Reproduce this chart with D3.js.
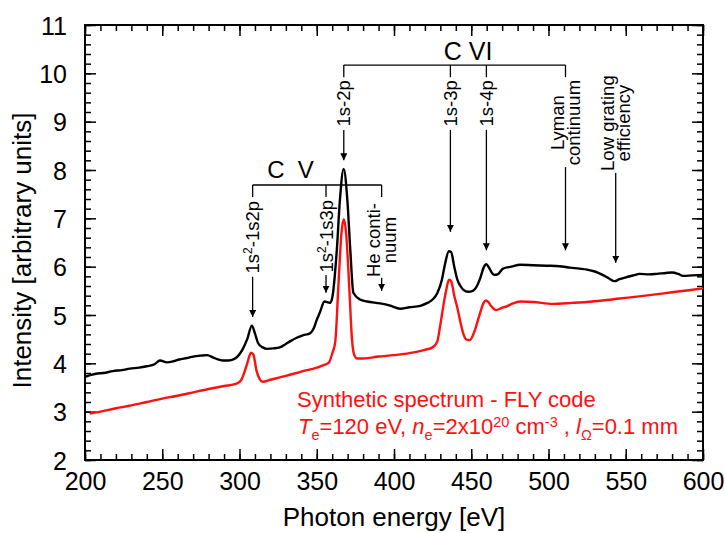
<!DOCTYPE html>
<html>
<head>
<meta charset="utf-8">
<script src="https://cdn.jsdelivr.net/npm/d3@7"></script>
<style>
    body { margin: 0; background: #fff; }
    svg text { font-family: "Liberation Sans", Arial, sans-serif; }
</style>
</head>
<body>
<svg id="chart" width="725" height="533"></svg>
<script>
// Measured spectrum (black) - photon energy [eV] vs intensity [arb. units]
const measEnergy = [200, 204, 208, 212, 218, 224, 229, 235, 240, 245, 248.5, 253, 257, 261, 266, 270, 275, 279, 283, 286,
    289, 293, 296, 299, 302, 305, 308, 310, 312, 315, 318, 322, 326, 330, 333, 337, 341, 345.6, 348, 350,
    352, 355, 358.6, 360, 363, 365, 367.4, 369.8, 371.7, 373.7, 378, 382.5, 391, 397, 404, 410, 417, 421, 425, 428,
    431, 433, 435.5, 437, 439, 441, 443, 445, 448, 451, 454, 456, 458, 459.7, 461.5, 463.4, 465, 467, 470.6, 476,
    481.6, 490, 499, 507, 514, 520, 525, 530, 535, 539, 542.7, 546, 549, 555, 559, 565, 570, 576, 580, 584, 587, 593, 600];
const measIntensity = [3.72, 3.76, 3.79, 3.8, 3.84, 3.86, 3.89, 3.91, 3.94, 3.98, 4.06, 4.02, 4.04, 4.08, 4.11, 4.14, 4.16, 4.17, 4.12, 4.08,
    4.06, 4.06, 4.08, 4.15, 4.29, 4.5, 4.78, 4.62, 4.42, 4.33, 4.3, 4.31, 4.33, 4.4, 4.46, 4.53, 4.58, 4.62, 4.72, 4.9,
    5.05, 5.28, 5.25, 5.35, 6.35, 7.38, 8.02, 7.38, 6.35, 5.46, 5.32, 5.28, 5.24, 5.2, 5.13, 5.16, 5.19, 5.24, 5.32, 5.45,
    5.73, 6.05, 6.32, 6.3, 6.0, 5.73, 5.6, 5.52, 5.48, 5.5, 5.62, 5.78, 5.98, 6.05, 5.98, 5.87, 5.83, 5.84, 5.96, 6.0,
    6.04, 6.03, 6.02, 6.01, 5.98, 5.96, 5.94, 5.9, 5.83, 5.76, 5.7, 5.74, 5.77, 5.82, 5.85, 5.84, 5.85, 5.87, 5.88, 5.85, 5.81, 5.82, 5.83];

// Synthetic spectrum (red) - FLY code
const flyEnergy = [203, 210, 220, 230, 240, 250, 260, 270, 280, 290, 298, 301, 303, 305, 307.5, 309, 311, 313, 315, 320,
    330, 340, 350, 354, 356, 358, 360, 362, 364, 366, 367.5, 369, 371, 372.8, 374, 376, 380, 390, 400, 410,
    420, 425, 428, 430, 432, 434, 435.6, 437, 439, 441, 443, 445, 447, 449, 451, 453, 455.7, 458, 459.5, 461,
    463, 466, 470, 473, 477, 481.6, 490, 503, 515, 525, 535, 546, 560, 580, 600];
const flyIntensity = [2.96, 3.0, 3.07, 3.13, 3.2, 3.27, 3.33, 3.4, 3.47, 3.53, 3.58, 3.65, 3.8, 4.0, 4.22, 4.18, 3.85, 3.68, 3.62, 3.66,
    3.74, 3.83, 3.91, 3.96, 3.98, 4.02, 4.2, 4.45, 5.6, 6.7, 6.98, 6.7, 5.6, 4.5, 4.2, 4.1, 4.1, 4.14, 4.17, 4.21,
    4.28, 4.33, 4.45, 4.8, 5.2, 5.55, 5.73, 5.7, 5.4, 5.15, 4.85, 4.6, 4.49, 4.48, 4.57, 4.75, 5.04, 5.25, 5.3, 5.27,
    5.18, 5.1, 5.15, 5.18, 5.24, 5.28, 5.27, 5.23, 5.25, 5.27, 5.3, 5.34, 5.39, 5.47, 5.55];

const xTicks = [200, 250, 300, 350, 400, 450, 500, 550, 600];
const yTicks = [2, 3, 4, 5, 6, 7, 8, 9, 10, 11];
const xMinorTicks = d3.range(200, 601, 10);
const yMinorTicks = d3.range(2, 11.01, 0.2);

// C V (He-like) lines and C VI (H-like) lines: energy, label lines
const cvLines = [
    { e: 308.5, label: [['1s', '2', '-1s2p']] },
    { e: 356, label: [['1s', '2', '-1s3p']] },
    { e: 392, label: [['He conti-'], ['nuum']] }
];
const cviLines = [
    { e: 367.5, label: [['1s-2p']] },
    { e: 436.5, label: [['1s-3p']] },
    { e: 459.8, label: [['1s-4p']] },
    { e: 511, label: [['Lyman'], ['continuum']] }
];

const svg = d3.select('#chart');
const mLeft = 85, mRight = 703, mTop = 25, mBottom = 460;

const x = d3.scaleLinear().domain([200, 600]).range([mLeft, mRight]);
const y = d3.scaleLinear().domain([2, 11]).range([mBottom, mTop]);

const fontAxis = 25;
const fontTitle = 26;

// arrow marker
svg.append('defs').append('marker')
    .attr('id', 'arrow')
    .attr('viewBox', '0 0 10 10')
    .attr('refX', 10).attr('refY', 5)
    .attr('markerWidth', 7).attr('markerHeight', 7)
    .attr('markerUnits', 'userSpaceOnUse')
    .attr('orient', 'auto')
    .append('path')
    .attr('d', 'M0,0 L10,5 L0,10 z')
    .attr('fill', '#000');

// ---- axes (ticks inward, mirrored on top/right) ----
function drawAxis(gen, transform, values, size, labels) {
    const g = svg.append('g')
        .attr('transform', transform)
        .call(gen.tickValues(values).tickSizeInner(size).tickSizeOuter(0)
            .tickPadding(labels ? labels : 0)
            .tickFormat(labels ? d3.format('d') : ''));
    g.select('.domain').remove();
    g.selectAll('line').attr('stroke', '#000').attr('stroke-width', 1.5);
    g.selectAll('text')
        .attr('font-size', fontAxis)
        .attr('fill', '#000')
        .style('font-family', '"Liberation Sans", Arial, sans-serif');
    return g;
}

drawAxis(d3.axisBottom(x), `translate(0,${mBottom})`, xMinorTicks, -6);
drawAxis(d3.axisBottom(x), `translate(0,${mBottom})`, xTicks, -11, 12);
drawAxis(d3.axisTop(x), `translate(0,${mTop})`, xMinorTicks, -6);
drawAxis(d3.axisTop(x), `translate(0,${mTop})`, xTicks, -11);
drawAxis(d3.axisLeft(y), `translate(${mLeft},0)`, yMinorTicks, -6);
drawAxis(d3.axisLeft(y), `translate(${mLeft},0)`, yTicks, -11, 18)
    .selectAll('text').attr('dy', '0.36em');
drawAxis(d3.axisRight(y), `translate(${mRight},0)`, yMinorTicks, -6);
drawAxis(d3.axisRight(y), `translate(${mRight},0)`, yTicks, -11);

svg.append('rect')
    .attr('x', mLeft).attr('y', mTop)
    .attr('width', mRight - mLeft).attr('height', mBottom - mTop)
    .attr('fill', 'none')
    .attr('stroke', '#000')
    .attr('stroke-width', 2);

// axis titles
svg.append('text')
    .attr('x', (mLeft + mRight) / 2)
    .attr('y', 526)
    .attr('text-anchor', 'middle')
    .attr('font-size', fontTitle)
    .attr('fill', '#000')
    .text('Photon energy [eV]');

svg.append('text')
    .attr('transform', `translate(31,${(mTop + mBottom) / 2 + 8}) rotate(-90)`)
    .attr('text-anchor', 'middle')
    .attr('font-size', fontTitle)
    .attr('fill', '#000')
    .text('Intensity [arbitrary units]');

// ---- spectra ----
const line = d3.line()
    .x(d => x(d[0]))
    .y(d => y(d[1]))
    .curve(d3.curveMonotoneX);

svg.append('path')
    .datum(flyEnergy.map((e, i) => [e, flyIntensity[i]]))
    .attr('d', line)
    .attr('fill', 'none')
    .attr('stroke', '#ff1010')
    .attr('stroke-width', 2.4);

svg.append('path')
    .datum(measEnergy.map((e, i) => [e, measIntensity[i]]))
    .attr('d', line)
    .attr('fill', 'none')
    .attr('stroke', '#000')
    .attr('stroke-width', 2.4);

// ---- annotations ----
const annFont = 18.5;

// rotated label: lines is an array of lines, each line an array of parts
// (odd-index parts are superscripts)
function vLabel(px, pyCenter, lines) {
    const gap = 16;
    lines.forEach((parts, li) => {
        const off = (li - (lines.length - 1) / 2) * gap;
        const t = svg.append('text')
            .attr('transform', `translate(${px + off},${pyCenter}) rotate(-90)`)
            .attr('text-anchor', 'middle')
            .attr('dy', '0.36em')
            .attr('font-size', annFont)
            .attr('fill', '#000');
        parts.forEach((p, i) => {
            const s = t.append('tspan').text(p);
            if (i % 2 === 1) s.attr('font-size', 12).attr('dy', -7);
            else if (i > 0) s.attr('dy', 7);
        });
    });
}

function segment(x1, y1, x2, y2, arrow) {
    const l = svg.append('line')
        .attr('x1', x1).attr('y1', y1)
        .attr('x2', x2).attr('y2', y2)
        .attr('stroke', '#000')
        .attr('stroke-width', 1.3);
    if (arrow) l.attr('marker-end', 'url(#arrow)');
}

function bracket(lines, yBar, yFoot, title, titleX, titleY, titleSize) {
    segment(x(lines[0].e), y(yBar), x(lines[lines.length - 1].e), y(yBar));
    lines.forEach(d => segment(x(d.e), y(yBar), x(d.e), y(yFoot)));
    svg.append('text')
        .attr('x', x(titleX)).attr('y', y(titleY))
        .attr('text-anchor', 'middle')
        .attr('font-size', titleSize)
        .attr('fill', '#000')
        .attr('xml:space', 'preserve')
        .text(title);
}

// C VI group
bracket(cviLines, 10.17, 9.92, 'C VI', 448, 10.28, 25);
const cviLabelY = [9.38, 9.38, 9.38, 8.98];
const cviArrowFrom = [8.83, 8.83, 8.83, 8.06];
const cviArrowTo = [8.2, 6.72, 6.34, 6.34];
cviLines.forEach((d, i) => {
    vLabel(x(d.e), y(cviLabelY[i]), d.label);
    segment(x(d.e), y(cviArrowFrom[i]), x(d.e), y(cviArrowTo[i]), true);
});

// low grating efficiency
vLabel(x(543.5), y(8.97), [['Low grating'], ['efficiency']]);
segment(x(543.5), y(7.94), x(543.5), y(6.08), true);

// C V group
bracket(cvLines, 7.69, 7.44, 'C  V', 333, 7.83, 24);
const cvLabelY = [6.61, 6.63, 6.55];
const cvArrowFrom = [5.79, 5.83, 5.77];
const cvArrowTo = [4.96, 5.46, 5.5];
cvLines.forEach((d, i) => {
    vLabel(x(d.e), y(cvLabelY[i]), d.label);
    segment(x(d.e), y(cvArrowFrom[i]), x(d.e), y(cvArrowTo[i]), true);
});

// ---- legend text (red) ----
const red = '#ff1010';
svg.append('text')
    .attr('x', 297).attr('y', 407)
    .attr('font-size', 22)
    .attr('fill', red)
    .text('Synthetic spectrum - FLY code');

const l2 = svg.append('text')
    .attr('x', 298).attr('y', 434)
    .attr('font-size', 22)
    .attr('fill', red);
const parts = [
    ['T', 'i', 0], ['e', 's', 6], ['=120 eV, ', 'n', -6], ['n', 'i', 0], ['e', 's', 6],
    ['=2x10', 'n', -6], ['20', 's', -7], [' cm', 'n', 7], ['-3', 's', -7], [' , ', 'n', 7],
    ['l', 'i', 0], ['Ω', 's', 6], ['=0.1 mm', 'n', -6]
];
parts.forEach(([txt, kind, dy]) => {
    const s = l2.append('tspan').text(txt).attr('dy', dy);
    if (kind === 'i') s.attr('font-style', 'italic');
    if (kind === 's') s.attr('font-size', 14.5);
});
</script>
</body>
</html>
